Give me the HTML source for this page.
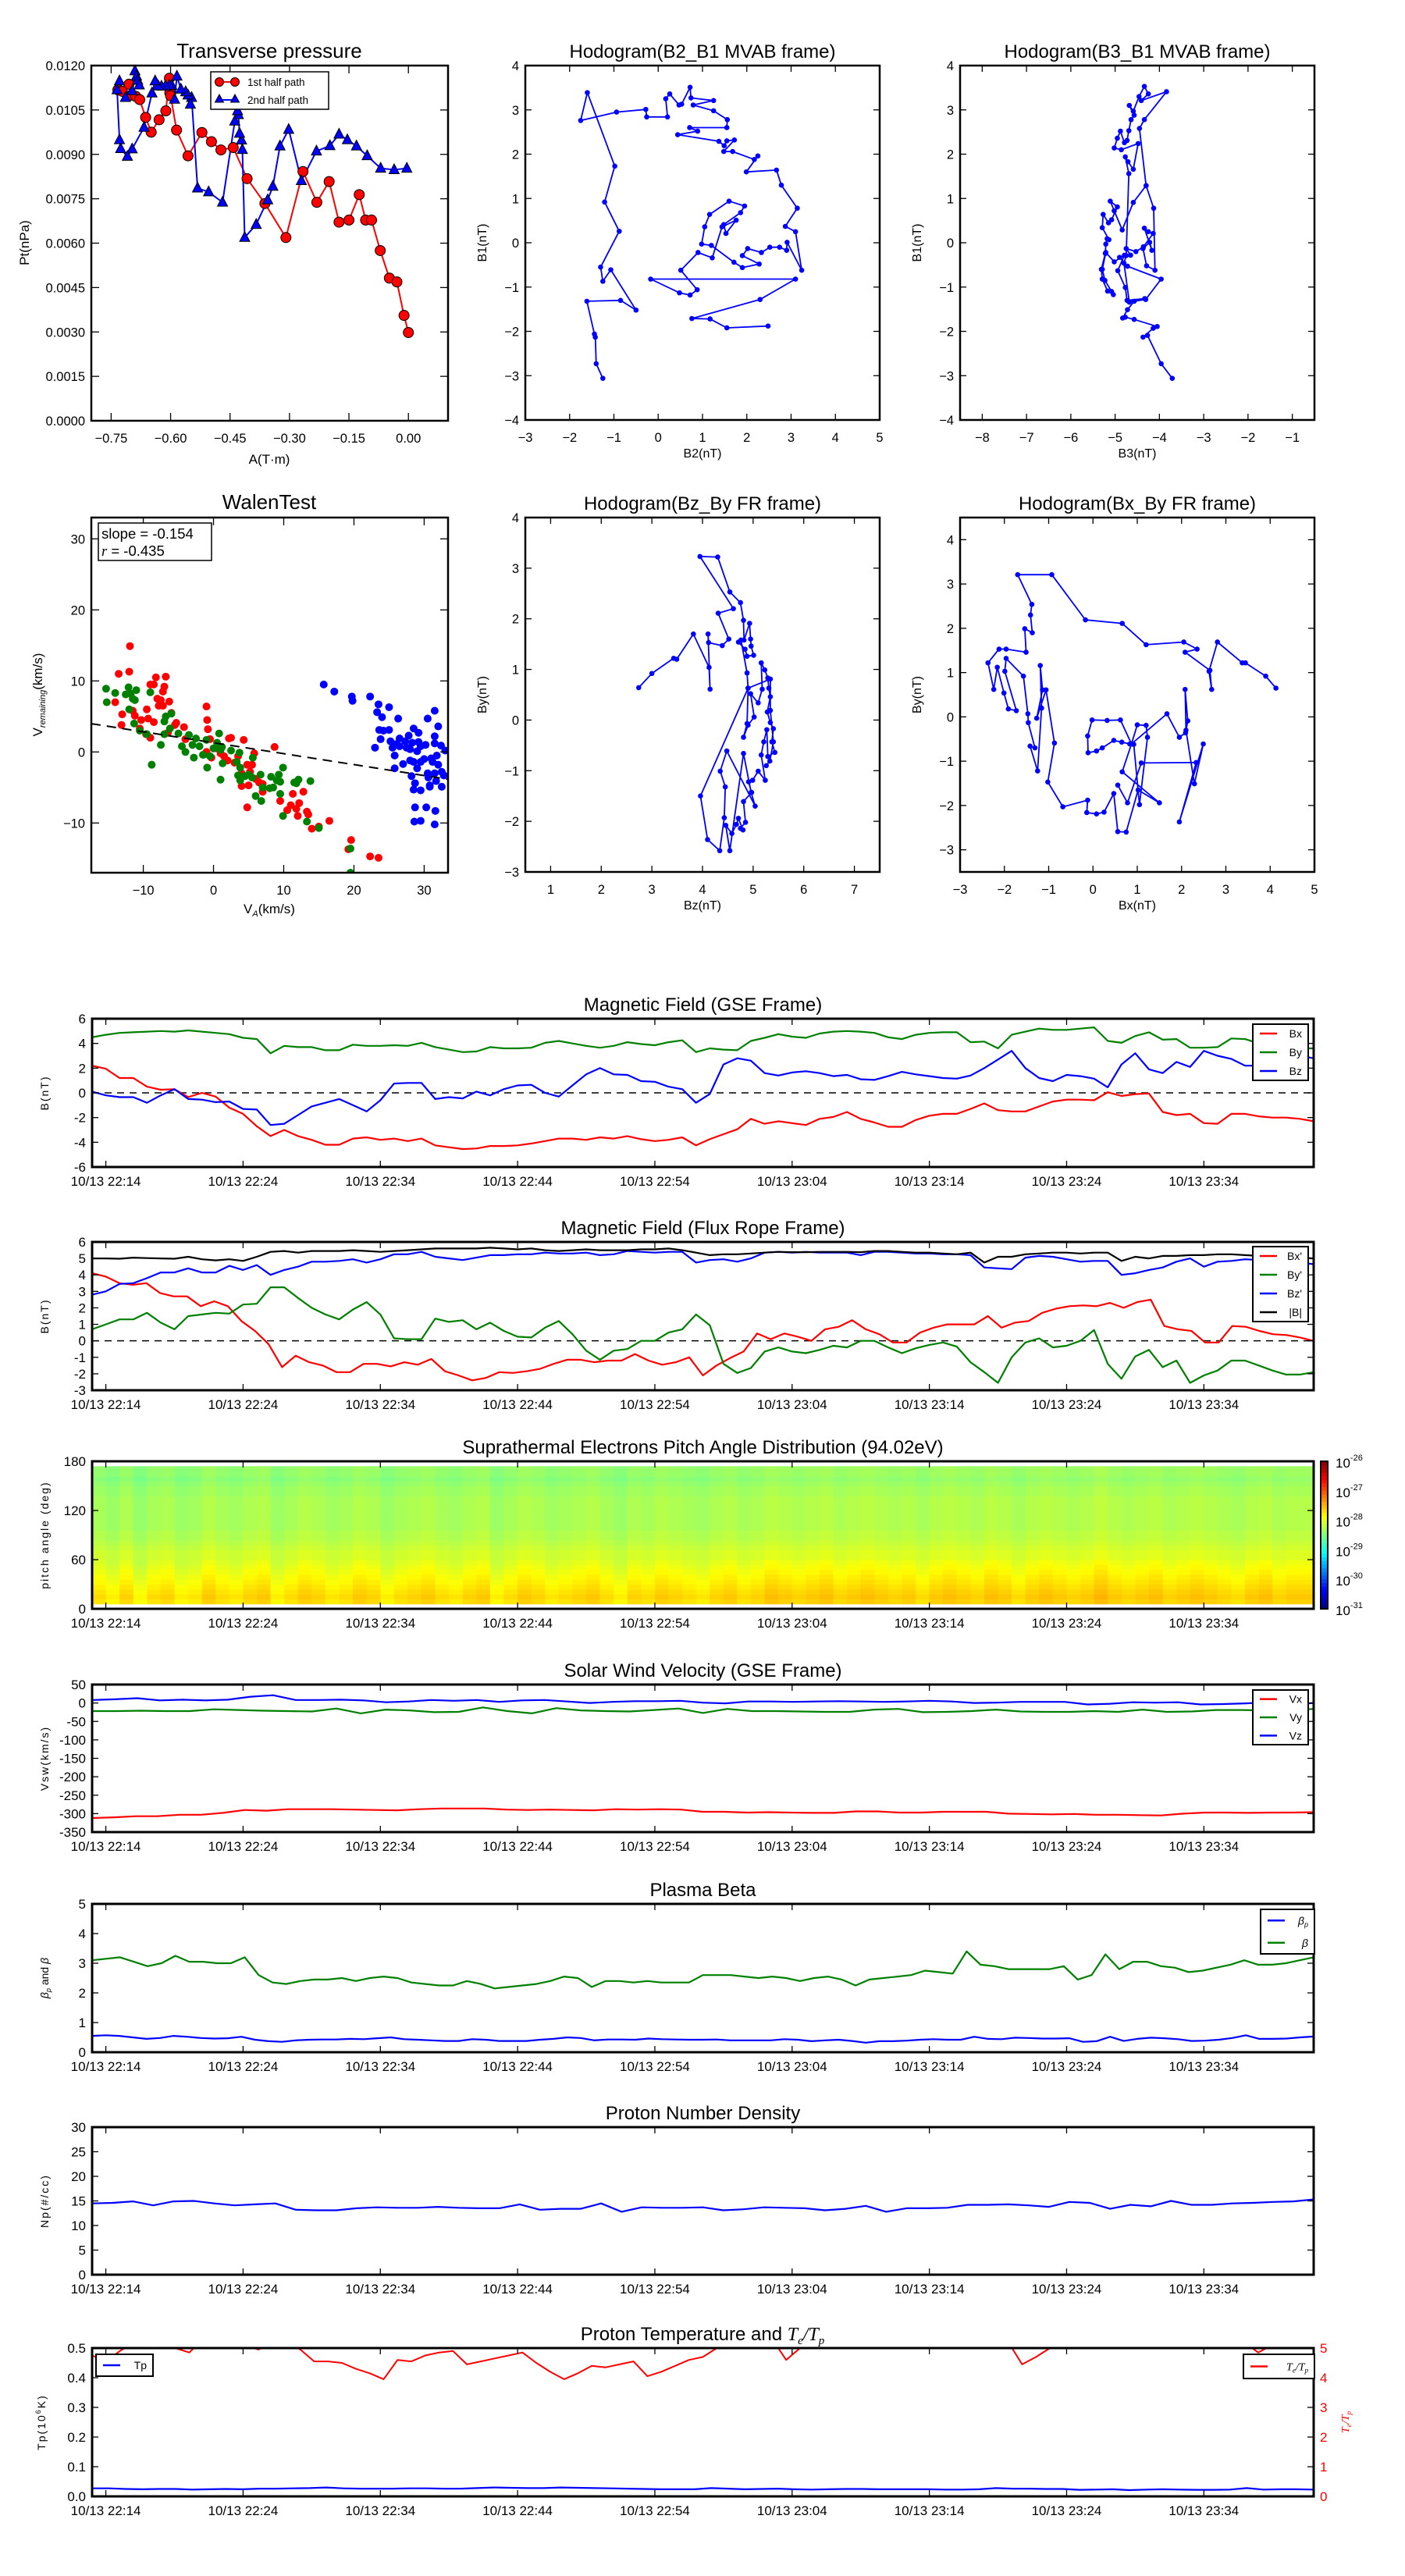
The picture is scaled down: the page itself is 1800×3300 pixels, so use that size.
<!DOCTYPE html>
<html><head><meta charset="utf-8">
<style>
html,body{margin:0;padding:0;background:#fff;}
svg{display:block;font-family:"Liberation Sans","DejaVu Sans",sans-serif;}
</style></head>
<body>
<svg id="fig" xmlns="http://www.w3.org/2000/svg" width="1800" height="3300" viewBox="0 0 1800 3300"></svg>
<script>
// ---------- DATA ----------
const tpRedA=[-0.733,-0.722,-0.705,-0.699,-0.688,-0.678,-0.663,-0.649,-0.629,-0.612,-0.603,-0.602,-0.600,-0.585,-0.556,-0.521,-0.497,-0.473,-0.442,-0.407,-0.362,-0.309,-0.266,-0.231,-0.200,-0.175,-0.150,-0.124,-0.108,-0.093,-0.071,-0.048,-0.029,-0.011,0.000];
const tpRedP=[0.01118,0.01113,0.01137,0.01100,0.01096,0.01085,0.01025,0.00975,0.01017,0.01047,0.01157,0.01108,0.01098,0.00982,0.00895,0.00974,0.00943,0.00915,0.00923,0.00818,0.00734,0.00619,0.00842,0.00738,0.00808,0.00671,0.00678,0.00764,0.00678,0.00678,0.00575,0.00482,0.00469,0.00356,0.00298];
const tpBlueA=[-0.004,-0.036,-0.070,-0.104,-0.131,-0.154,-0.175,-0.198,-0.232,-0.270,-0.302,-0.324,-0.342,-0.355,-0.384,-0.413,-0.419,-0.421,-0.426,-0.429,-0.431,-0.438,-0.469,-0.504,-0.532,-0.547,-0.550,-0.556,-0.562,-0.574,-0.584,-0.590,-0.597,-0.603,-0.613,-0.623,-0.631,-0.639,-0.647,-0.667,-0.697,-0.709,-0.726,-0.729,-0.735,-0.729,-0.714,-0.697,-0.690,-0.686,-0.683,-0.679];
const tpBlueP=[0.00853,0.00848,0.00853,0.00895,0.00928,0.00949,0.00968,0.00929,0.00911,0.00811,0.00984,0.00928,0.00792,0.00746,0.00663,0.00619,0.00916,0.00948,0.00971,0.01034,0.01047,0.01012,0.00738,0.00773,0.00786,0.01092,0.01069,0.01100,0.01111,0.01120,0.01164,0.01086,0.01133,0.01133,0.01131,0.01130,0.01131,0.01148,0.01107,0.00991,0.00918,0.00893,0.00919,0.00949,0.01118,0.01148,0.01092,0.01115,0.01182,0.01164,0.01150,0.01134];

const h1B2=[-1.25,-1.40,-1.42,-1.44,-1.61,-0.85,-0.50,-1.07,-1.25,-1.30,-0.88,-1.21,-0.98,-1.60,-1.75,-0.94,-0.28,-0.26,0.21,0.17,0.26,0.47,0.53,0.72,0.74,1.25,0.79,1.25,1.56,1.55,0.71,0.89,0.44,1.37,1.49,1.55,1.72,1.48,1.68,2.17,2.25,1.99,2.67,2.78,3.14,2.87,3.10,3.24,2.91,2.90,2.74,2.52,2.33,2.02,1.90,2.28,1.90,1.71,1.20,0.98,1.05,1.16,1.60,1.95,1.86,1.48,1.53,1.76,1.44,1.22,0.90,0.51,0.88,0.72,0.48,-0.17,3.10,2.30,0.76,1.17,1.55,2.48];
const h1B1=[-3.06,-2.73,-2.13,-2.06,-1.32,-1.30,-1.52,-0.61,-0.87,-0.55,0.26,0.92,1.73,3.39,2.76,2.95,3.01,2.84,2.84,3.25,3.36,3.11,3.13,3.51,3.27,3.21,3.11,2.98,2.78,2.60,2.60,2.52,2.44,2.29,2.19,2.30,2.32,2.06,2.06,1.88,1.96,1.60,1.64,1.30,0.78,0.37,0.25,-0.62,0.01,-0.17,-0.10,-0.10,-0.22,-0.13,-0.29,-0.48,-0.56,-0.44,-0.06,-0.03,0.36,0.64,0.94,0.83,0.68,0.41,0.21,0.51,0.36,-0.34,-0.22,-0.62,-1.06,-1.18,-1.13,-0.82,-0.82,-1.28,-1.71,-1.72,-1.92,-1.88];

const h2B3=[-3.71,-3.96,-4.27,-4.37,-4.14,-4.05,-4.57,-4.77,-4.83,-4.72,-4.57,-4.33,-4.73,-4.77,-4.94,-4.79,-5.02,-5.21,-5.29,-5.23,-5.08,-5.04,-5.17,-5.29,-5.31,-5.22,-5.21,-5.18,-5.14,-5.29,-5.27,-5.15,-5.08,-4.95,-5.11,-5.02,-4.84,-4.59,-4.30,-4.13,-4.10,-4.29,-4.37,-4.22,-4.17,-4.34,-4.25,-4.14,-4.36,-4.53,-4.75,-4.65,-4.90,-4.72,-3.96,-4.31,-4.68,-4.80,-4.75,-4.69,-4.77,-4.71,-4.59,-4.48,-4.86,-5.02,-4.95,-4.88,-4.79,-4.73,-4.69,-4.64,-4.57,-4.68,-4.59,-4.46,-4.34,-4.25,-4.41,-3.84,-4.34,-4.45,-4.30];
const h2B1=[-3.06,-2.73,-2.09,-2.13,-1.93,-1.89,-1.73,-1.68,-1.70,-1.51,-1.32,-1.26,-1.30,-1.01,-0.63,-0.28,-0.43,-0.22,-0.60,-0.85,-1.10,-1.17,-1.09,-0.82,-0.60,-0.24,-0.03,0.09,0.07,0.34,0.64,0.45,0.52,0.81,0.94,0.72,0.29,0.91,1.29,0.78,-0.62,-0.52,-0.13,0.01,-0.17,0.33,0.25,0.21,-0.09,-0.20,-0.13,-0.28,-0.33,-0.53,-0.82,-1.28,-1.34,-0.46,-0.29,1.56,1.94,1.83,1.66,2.24,2.10,2.14,2.36,2.52,2.26,2.31,2.53,2.78,2.88,3.10,2.97,3.30,3.53,3.36,3.21,3.41,2.78,2.58,1.29];

const h3Bz=[2.74,3.00,3.43,3.49,3.82,4.13,4.15,4.11,4.12,4.39,4.52,4.31,4.61,3.95,4.30,4.54,4.75,4.81,4.82,4.93,4.95,4.96,5.01,4.88,4.84,4.71,4.76,4.88,4.90,4.88,4.81,4.90,5.02,4.95,5.10,5.18,5.16,5.23,5.29,5.31,5.34,5.28,5.34,5.40,5.37,5.43,5.29,5.27,5.21,5.16,5.24,5.10,4.99,4.91,4.97,4.81,4.85,4.75,4.80,4.71,4.67,4.58,4.46,4.54,4.81,4.96,5.04,4.48,4.35,4.45,4.43,4.34,4.10,3.96,4.90,5.34,5.34,5.40,5.33,5.26];
const h3By=[0.64,0.92,1.22,1.20,1.70,1.04,0.61,1.70,1.53,1.47,1.60,2.11,2.20,3.23,3.22,2.53,2.32,1.97,1.58,1.91,1.60,1.46,1.28,1.26,1.40,1.54,1.58,0.93,0.63,-0.07,-0.34,-0.10,0.06,0.52,0.34,0.61,1.13,0.99,0.83,0.63,0.46,0.16,-0.05,-0.17,-0.43,-0.64,-0.72,-0.19,-0.43,-0.69,-1.19,-1.01,-1.19,-1.22,-1.43,-1.61,-2.02,-2.14,-2.17,-1.94,-2.06,-2.24,-2.08,-2.58,-0.66,-1.43,-1.70,-0.61,-1.01,-1.32,-1.93,-2.58,-2.36,-1.50,0.63,0.81,0.19,-0.43,-0.81,-0.90];

const h4Bx=[4.13,3.90,3.44,3.37,2.81,2.62,2.68,2.64,2.08,2.35,2.05,1.20,0.66,-0.17,-0.93,-1.70,-1.38,-1.41,-1.37,-1.54,-1.51,-1.96,-2.12,-2.37,-2.24,-2.16,-2.01,-1.91,-1.73,-1.99,-1.96,-1.57,-1.47,-1.46,-1.31,-1.42,-1.25,-1.16,-1.19,-1.14,-1.27,-1.06,-0.87,-1.02,-0.68,-0.12,-0.14,0.08,0.25,0.47,0.56,0.75,1.02,1.50,0.66,0.87,1.00,1.20,1.23,1.05,0.92,0.83,0.65,0.47,0.21,0.08,-0.11,-0.12,-0.02,0.32,0.62,0.87,1.67,1.95,2.09,2.14,2.08,2.10,2.29,2.49,1.95,2.33,1.09,0.78,0.56];
const h4By=[0.65,0.92,1.22,1.22,1.69,1.03,0.62,1.05,1.46,1.53,1.69,1.63,2.11,2.19,3.21,3.21,2.54,2.30,1.90,1.99,1.46,1.53,1.53,1.22,0.62,1.12,0.54,0.18,0.14,1.03,1.32,0.92,0.07,-0.13,-0.70,-0.66,-1.22,0.20,1.16,0.61,-0.03,0.61,-0.59,-1.47,-2.03,-1.88,-2.16,-2.19,-2.15,-1.73,-2.59,-2.60,-1.65,-1.94,-1.24,-0.61,-0.18,-0.19,-0.46,-1.98,-0.62,-0.61,-0.57,-0.53,-0.70,-0.77,-0.81,-0.43,-0.07,-0.08,-0.07,-0.61,0.07,-0.46,-0.36,-0.09,0.62,-0.30,-1.51,-0.61,-2.37,-1.03,-1.04,-1.94,-1.54];

const wRedX=[-11.9,-13.5,-12,-14,-13,-13.1,-11.5,-11.2,-10.5,-10.3,-9.5,-9.3,-9,-8.5,-8.2,-8,-7.8,-7.5,-7.2,-8.5,-7,-7.2,-6.8,-6.3,-6,-5.5,-5.3,-4.2,-4,-1,-0.9,-0.8,-0.5,-1,-0.3,1.5,2.2,2.5,2,3,4.3,4,4.8,5.2,5.5,5.8,5,4,6.5,7,4.8,8.7,9.5,11,11.3,11.8,12,12.2,12.8,13.3,13.5,14,15,16.5,19.2,19.6,22.3,23.5,-9,-9.6,-6.5,-1.2,0.5,1,3.5,6,7,10.5];
const wRedY=[14.9,11,11.3,7,5.3,3.8,5.8,5.1,3.3,4.5,6,4.7,9.5,9.5,10.5,7.5,6.5,7.3,6.5,4.2,9.2,8.5,10.6,7.1,5.5,3.8,4.1,3.5,1.8,6.4,4.5,3.2,1.8,0,-0.8,-0.6,1.9,2,-1.2,-1.5,1.7,-3,-1.8,-2.8,-1.8,-0.2,-4.7,-4.8,-4.3,-5.6,-7.8,0.7,-6.9,-7.5,-5.9,-8,-9,-7.2,-5.6,-8.4,-8.8,-10.8,-10.5,-9.7,-13.7,-12.4,-14.7,-14.9,2,2.5,2.7,-0.3,0.5,-0.2,-0.6,-3.8,-4.5,-8.2];
const wGreenX=[-15.3,-15.2,-14,-12.5,-12.1,-11.8,-11,-11.2,-11.5,-12,-11.3,-10.5,-9.5,-9,-8.8,-7.5,-7,-6.8,-6,-6.2,-7,-5,-4.5,-4,-3.5,-3,-2.5,-2.8,-2,-1.5,-1,-0.9,-0.5,0,0.5,0.8,1,1.2,1,1.3,2.5,3.3,3.8,3.7,3.5,3.8,4.5,5,5.6,5.5,6,6.7,7,6.8,8,8.2,8.5,9,9.3,9.5,9.5,9.9,9.9,11.5,12.1,11.8,13.3,13.8,15,19.5,19.5];
const wGreenY=[8.9,7,8.3,8.1,9.1,8.2,8.7,7.3,7.5,6,4,3,2.5,8.4,-1.8,1,4.3,5,5.4,3.3,2.5,2.6,0.8,0,2.4,1,1.9,-0.8,0.8,-0.4,1.7,-2.2,-0.6,0.5,1.3,2.6,0.3,0.7,-3.9,-1.6,0.2,-1.4,-2.2,-0.1,-3.3,-4,-3.4,-3.2,-0.8,-3.6,-6.2,-3.2,-5,-6.9,-5.1,-3.5,-5,-4,-3.2,-4.2,-5.9,-2.2,-9,-4.3,-3.9,-4.4,-9.8,-4.1,-10.7,-13.6,-17];
const wBlueX=[15.7,17.2,19.7,19.8,22.3,23.5,23.3,24,25,26.3,23.6,24.2,25,23.8,23,25.2,25.5,25.8,26,26.5,26.5,27.3,27.8,28.5,29.2,27.5,28,28.3,29,29.5,29.2,30.2,28.5,27,28,29,29.5,30,30.5,31,31.5,31.5,32,32.4,31.8,32,32.5,31.5,30.6,30.8,31.7,28.2,28.7,28.5,29.5,30.8,32.5,25.8,28.7,30.3,31.6,28.6,29.5,31.5,30.5,31.5,32.8,31.2,33];
const wBlueY=[9.5,8.5,7.8,7.2,7.8,6.7,5.6,4.9,6.3,4.7,3.1,3,3.1,1.8,0.6,1.5,0.6,-0.5,1.1,1.9,0.8,1.5,2.3,3.3,2.7,0.6,0.4,1.3,0.1,0.8,1.4,1,-1.4,-1.7,-1.2,-2.3,-1.4,-1,-3,-0.9,1.2,2.2,3.6,0.9,-0.5,-1.8,-2.8,-3,-3.6,-4.7,-4.1,-3.4,-4.4,-5.3,-5.4,-4.9,-4.9,-2.3,-7.8,-7.8,-8.3,-9.8,-9.7,-10.2,4.7,5.8,-3.3,-1.4,0.2];
const walenSlope=-0.154, walenIntercept=1.3;

const timeTicks=["10/13 22:14","10/13 22:24","10/13 22:34","10/13 22:44","10/13 22:54","10/13 23:04","10/13 23:14","10/13 23:24","10/13 23:34"];
const bx=[2.2,1.95,1.2,1.2,0.5,0.25,0.3,-0.35,0,-0.3,-1.2,-1.7,-2.7,-3.5,-3,-3.5,-3.8,-4.2,-4.2,-3.7,-3.6,-3.8,-3.7,-3.9,-3.7,-4.25,-4.4,-4.55,-4.5,-4.3,-4.3,-4.25,-4.1,-3.9,-3.7,-3.7,-3.8,-3.6,-3.7,-3.5,-3.75,-3.9,-3.8,-3.6,-4.25,-3.75,-3.35,-2.95,-2.1,-2.5,-2.3,-2.45,-2.6,-2.1,-1.95,-1.55,-2.1,-2.4,-2.75,-2.75,-2.2,-1.85,-1.7,-1.7,-1.3,-0.85,-1.4,-1.5,-1.5,-1.1,-0.7,-0.55,-0.55,-0.6,0.05,-0.25,-0.1,-0.05,-1.55,-1.8,-1.7,-2.45,-2.5,-1.7,-1.7,-1.9,-2,-2,-2.1,-2.3];
const by=[4.5,4.7,4.85,4.9,4.95,5.0,4.95,5.05,4.95,4.85,4.75,4.45,4.35,3.2,3.8,3.7,3.7,3.45,3.45,3.9,3.8,3.8,3.85,3.8,4.05,3.7,3.5,3.3,3.35,3.7,3.6,3.6,3.65,4.05,4.2,4.0,3.8,3.65,3.8,4.1,3.95,3.85,4.1,4.25,3.3,3.6,3.5,3.45,4.2,4.45,4.75,4.55,4.45,4.8,4.95,5.0,4.95,4.85,4.5,4.35,4.7,4.85,4.9,4.9,4.1,4.15,3.6,4.7,4.95,5.2,5.1,5.1,5.2,5.3,4.2,4.05,4.6,4.9,4.3,4.35,3.65,3.65,3.7,4.4,4.35,4.0,3.85,3.65,3.6,3.6];
const bz=[0.1,-0.2,-0.35,-0.35,-0.8,-0.2,0.3,-0.5,-0.55,-0.75,-0.7,-1.3,-1.35,-2.6,-2.5,-1.8,-1.1,-0.8,-0.5,-1.0,-1.5,-0.6,0.75,0.8,0.8,-0.5,-0.35,-0.45,0.1,-0.2,0.3,0.6,0.65,0.0,-0.3,0.6,1.5,2.0,1.5,1.45,0.95,0.9,0.5,0.3,-0.8,-0.1,2.3,2.8,2.6,1.6,1.4,1.65,1.75,1.6,1.35,1.45,1.1,1.05,1.35,1.7,1.5,1.35,1.2,1.15,1.4,2.0,2.7,3.4,2.0,1.2,0.95,1.45,1.35,1.15,0.45,2.3,3.2,1.9,1.6,2.5,2.1,3.4,3.0,2.75,2.2,2.2,2.45,3.3,3.0,2.8];
const bxp=[4.1,3.9,3.5,3.4,3.5,2.9,2.7,2.7,2.1,2.4,2.1,1.2,0.6,-0.2,-1.6,-0.9,-1.3,-1.5,-1.9,-1.9,-1.4,-1.4,-1.55,-1.3,-1.45,-1.1,-1.85,-2.1,-2.4,-2.25,-1.9,-1.95,-1.85,-1.7,-1.4,-1.15,-1.15,-1.3,-1.2,-1.2,-0.8,-1.2,-1.45,-1.3,-1.0,-2.1,-1.5,-1.05,-0.65,0.45,0.1,0.45,0.25,0.0,0.7,0.85,1.25,0.7,0.4,-0.1,-0.1,0.5,0.8,1.0,1.0,1.0,1.5,0.8,1.1,1.2,1.7,1.95,2.1,2.15,2.1,2.3,2.0,2.35,2.5,0.9,0.7,0.6,-0.1,-0.1,0.9,0.85,0.6,0.4,0.35,0.2,0.0];
const byp=[0.7,1.0,1.3,1.3,1.7,1.1,0.7,1.5,1.6,1.7,1.65,2.2,2.25,3.25,3.25,2.6,2.0,1.6,1.3,1.9,2.35,1.6,0.15,0.1,0.1,1.35,1.15,1.25,0.7,1.1,0.6,0.25,0.2,0.8,1.2,0.4,-0.6,-1.15,-0.6,-0.5,0.0,0.0,0.5,0.7,1.6,0.95,-1.4,-1.95,-1.65,-0.65,-0.4,-0.65,-0.75,-0.55,-0.3,-0.4,0.0,0.0,-0.4,-0.75,-0.45,-0.25,-0.1,-0.35,-1.3,-1.9,-2.55,-1.0,-0.1,0.15,-0.4,-0.3,0.0,0.65,-1.4,-2.3,-0.95,-0.55,-1.6,-1.2,-2.55,-2.1,-1.8,-1.2,-1.2,-1.5,-1.8,-2.05,-2.05,-1.9];
const bzp=[2.8,3.0,3.45,3.5,3.8,4.15,4.15,4.4,4.15,4.15,4.55,4.3,4.6,4.0,4.3,4.5,4.8,4.8,4.85,4.95,4.75,4.95,5.25,5.25,5.4,5.1,5.0,4.9,5.05,5.2,5.2,5.25,5.25,5.35,5.3,5.3,5.35,5.2,5.25,5.45,5.4,5.35,5.4,5.4,4.75,4.9,4.95,4.8,5.0,5.35,5.4,5.35,5.4,5.35,5.35,5.35,5.2,5.4,5.4,5.35,5.3,5.3,5.25,5.25,5.2,4.45,4.4,4.35,5.05,5.15,5.1,4.95,4.8,4.85,4.85,4.0,4.1,4.3,4.45,4.8,5.0,4.5,4.8,4.85,4.95,4.9,4.8,4.85,4.75,4.65];
const bmag=[5.0,5.0,4.98,5.05,5.02,5.0,4.98,5.1,4.95,4.88,4.95,4.85,5.1,5.4,5.45,5.35,5.45,5.45,5.45,5.5,5.45,5.4,5.45,5.5,5.55,5.6,5.6,5.6,5.6,5.65,5.6,5.55,5.6,5.5,5.45,5.5,5.55,5.5,5.5,5.5,5.55,5.55,5.6,5.5,5.35,5.2,5.25,5.25,5.3,5.35,5.4,5.38,5.38,5.4,5.4,5.4,5.38,5.45,5.45,5.4,5.35,5.35,5.3,5.25,5.35,4.75,5.1,5.1,5.25,5.3,5.35,5.35,5.3,5.35,5.35,4.85,5.1,5.0,5.15,5.15,5.2,5.2,5.25,5.25,5.2,5.15,5.12,5.1,5.05,5.0];
// pitch-angle distribution: log10 flux by 6-degree bin (bottom to top), per-minute adjustment
const padRowLevel=[NaN,-27.75,-27.7,-27.75,-27.8,-27.85,-27.9,-27.95,-28.0,-28.05,-28.1,-28.1,-28.15,-28.2,-28.25,-28.25,-28.3,-28.3,-28.3,-28.3,-28.3,-28.3,-28.3,-28.35,-28.35,-28.4,-28.45,-28.4,-28.4,NaN];
const padColAdj=[0,-0.1,0.05,-0.15,0,0.05,-0.1,-0.05,0.1,0,-0.05,0.05,0.1,-0.1,0,0.1,0.05,-0.05,0,0.1,0.05,-0.1,0,0.05,0.1,0,-0.05,0.05,0.1,-0.1,0,0.1,0.05,-0.05,0,0.05,0.1,0,-0.1,0.05,0,0.1,0.05,0,-0.05,0.05,0.1,0,0.05,0.15,0.1,0.05,0.1,0.15,0.05,0.1,0.15,0.1,0.05,0.1,0,0.1,0.15,0.1,0.05,0.15,0.1,0,0.1,0.15,0.1,0.05,0.1,0.2,0.1,0.05,0.1,0.15,0.05,0.1,0.15,0.1,0.05,0,0.1,0.15,0.05,0.1,0.1];
const vx=[-312,-310,-307,-307,-303,-303,-298,-290,-292,-288,-288,-288,-289,-290,-291,-288,-286,-286,-286,-289,-290,-289,-290,-291,-288,-289,-288,-289,-295,-295,-297,-296,-297,-298,-298,-294,-294,-297,-297,-295,-295,-295,-300,-301,-302,-301,-303,-303,-304,-305,-300,-297,-297,-298,-297,-297,-296];
const vy=[-22,-22,-21,-22,-22,-17,-19,-21,-22,-23,-15,-28,-18,-20,-25,-24,-12,-22,-28,-14,-20,-22,-23,-19,-15,-27,-16,-22,-22,-23,-24,-24,-18,-16,-25,-24,-22,-18,-23,-24,-24,-22,-24,-18,-24,-23,-19,-19,-20,-21,-16];
const vz=[8,10,13,7,9,7,9,17,21,8,8,9,7,2,4,8,6,8,3,7,8,4,0,3,5,5,6,1,-1,4,4,3,4,5,4,3,4,6,4,0,1,3,3,3,-4,-2,2,1,2,-4,-3,-1,2,-4,0];
const beta=[3.1,3.15,3.2,3.05,2.9,3.0,3.25,3.05,3.05,3.0,3.0,3.2,2.6,2.35,2.3,2.4,2.45,2.45,2.5,2.4,2.5,2.55,2.5,2.35,2.3,2.25,2.25,2.4,2.3,2.15,2.2,2.25,2.3,2.4,2.55,2.5,2.2,2.4,2.4,2.35,2.4,2.35,2.35,2.35,2.6,2.6,2.6,2.55,2.5,2.55,2.5,2.4,2.5,2.55,2.45,2.25,2.45,2.5,2.55,2.6,2.75,2.7,2.65,3.4,2.95,2.9,2.8,2.8,2.8,2.8,2.9,2.45,2.6,3.3,2.8,3.05,3.05,2.9,2.85,2.7,2.75,2.85,2.95,3.1,2.95,2.95,3.0,3.1,3.2];
const betaP=[0.55,0.57,0.55,0.5,0.45,0.48,0.55,0.52,0.48,0.46,0.47,0.52,0.42,0.37,0.35,0.4,0.42,0.43,0.43,0.45,0.44,0.47,0.5,0.44,0.42,0.4,0.38,0.38,0.44,0.42,0.38,0.38,0.38,0.42,0.45,0.5,0.48,0.4,0.43,0.43,0.42,0.46,0.44,0.43,0.42,0.42,0.43,0.4,0.4,0.4,0.4,0.44,0.42,0.37,0.4,0.42,0.38,0.32,0.37,0.37,0.39,0.42,0.44,0.42,0.42,0.52,0.45,0.44,0.49,0.48,0.46,0.46,0.47,0.35,0.37,0.52,0.38,0.45,0.49,0.47,0.44,0.38,0.39,0.42,0.48,0.57,0.45,0.45,0.46,0.5,0.53];
const np=[14.5,14.6,14.9,14.1,14.9,15.0,14.5,14.1,14.3,14.5,13.2,13.1,13.1,13.5,13.7,13.6,13.6,13.8,13.6,13.5,13.5,14.3,13.2,13.4,13.4,14.5,12.8,13.7,13.6,13.6,13.7,13.1,13.3,13.7,13.6,13.5,13.1,13.4,14.0,12.8,13.5,13.5,13.6,14.2,14.2,14.3,14.1,13.8,14.8,14.6,13.4,14.2,13.9,15.0,14.2,14.2,14.5,14.6,14.8,14.9,15.3];
const tp=[0.027,0.027,0.025,0.024,0.025,0.025,0.023,0.024,0.025,0.024,0.026,0.026,0.027,0.028,0.030,0.027,0.026,0.026,0.026,0.027,0.027,0.026,0.026,0.028,0.030,0.029,0.028,0.028,0.030,0.029,0.028,0.027,0.026,0.025,0.024,0.024,0.024,0.028,0.026,0.024,0.025,0.026,0.024,0.023,0.024,0.025,0.025,0.024,0.024,0.024,0.024,0.023,0.023,0.024,0.028,0.026,0.026,0.025,0.025,0.022,0.023,0.024,0.021,0.023,0.024,0.023,0.022,0.022,0.023,0.028,0.023,0.024,0.024,0.023];
const teTp=[4.75,4.55,4.9,5.2,5.3,5.2,5.0,4.85,5.3,5.3,5.2,5.1,4.95,5.3,5.2,4.95,4.55,4.55,4.5,4.3,4.15,3.95,4.6,4.55,4.75,4.85,4.9,4.45,4.55,4.65,4.75,4.85,4.5,4.2,3.95,4.15,4.4,4.35,4.45,4.55,4.05,4.2,4.4,4.6,4.7,5.0,5.4,5.6,5.5,5.3,4.6,5.0,5.4,5.4,5.6,5.5,5.7,5.6,5.4,5.5,5.6,5.7,5.5,5.6,5.4,5.3,5.2,4.45,4.7,5.0,5.3,5.4,5.5,5.6,5.5,5.4,5.6,5.5,5.4,5.5,5.6,5.4,5.3,5.2,4.85,5.1,5.3,5.4,5.5];

// ---------- HELPERS ----------
const NS="http://www.w3.org/2000/svg";
const svg=document.getElementById('fig');
function mk(tag,attrs,parent){const e=document.createElementNS(NS,tag);for(const k in attrs)e.setAttribute(k,attrs[k]);(parent||svg).appendChild(e);return e;}
function txt(s,x,y,size,anchor,parent,extra){const t=mk('text',Object.assign({x:x,y:y,'font-size':size,'text-anchor':anchor||'middle',fill:'#000'},extra||{}),parent);t.textContent=s;return t;}
function axes(o){
  o.sx=v=>o.x0+(v-o.xmin)/(o.xmax-o.xmin)*(o.x1-o.x0);
  o.sy=v=>o.y1-(v-o.ymin)/(o.ymax-o.ymin)*(o.y1-o.y0);
  const g=mk('g',{});
  
  
  o.g=g;
  const cid='clip-'+o.name;
  const cp=mk('clipPath',{id:cid},g);
  mk('rect',{x:o.x0,y:o.y0,width:o.x1-o.x0,height:o.y1-o.y0},cp);
  o.plot=mk('g',{'clip-path':'url(#'+cid+')'},g);
  return o;
}
function frame(o,tl){
  const g=o.g;tl=tl||9;
  const fr=mk('rect',{x:o.x0,y:o.y0,width:o.x1-o.x0,height:o.y1-o.y0,fill:'none',stroke:'#000','stroke-width':o.fw||2.5},g);
  
  
  (o.xticks||[]).forEach((v,i)=>{const x=o.sx(v);
    mk('line',{x1:x,x2:x,y1:o.y1,y2:o.y1-tl,stroke:'#000','stroke-width':1.3},g);
    mk('line',{x1:x,x2:x,y1:o.y0,y2:o.y0+tl,stroke:'#000','stroke-width':1.3},g);
    const t=txt(o.xlabels?o.xlabels[i]:String(v),x,o.y1+(o.xlo||28),o.tfs||17,'middle',g);
    
    
  });
  (o.yticks||[]).forEach((v,i)=>{const y=o.sy(v);
    mk('line',{x1:o.x0,x2:o.x0+tl,y1:y,y2:y,stroke:'#000','stroke-width':1.3},g);
    if(!o.noRightTicks) mk('line',{x1:o.x1,x2:o.x1-tl,y1:y,y2:y,stroke:'#000','stroke-width':1.3},g);
    const t=txt(o.ylabels?o.ylabels[i]:String(v),o.x0-(o.ylo||8),y+6,o.tfs||17,'end',g);
    
    
  });
}
function poly(o,xs,ys,color,w,parent){
  const pts=xs.map((x,i)=>o.sx(x).toFixed(1)+','+o.sy(ys[i]).toFixed(1)).join(' ');
  return mk('polyline',{points:pts,fill:'none',stroke:color,'stroke-width':w||2,'stroke-linejoin':'round'},parent||o.plot);
}
const minus=s=>s.replace(/-/g,'\u2212');
function range(a,b,s){const r=[];for(let v=a;v<=b+1e-9;v+=s)r.push(Math.round(v*1e6)/1e6);return r;}

// ---------- TRANSVERSE PRESSURE ----------
(function(){
 const o=axes({name:'transverse-pressure-panel',x0:117,x1:574,y0:84,y1:539,xmin:-0.8,xmax:0.1,ymin:0,ymax:0.012,tfs:16.5});
 o.xticks=range(-0.75,0,0.15);o.xlabels=o.xticks.map(v=>minus(v.toFixed(2)).replace('\u22120.00','0.00'));
 o.yticks=range(0,0.012,0.0015);o.ylabels=o.yticks.map(v=>v.toFixed(4));
 const rl=poly(o,tpRedA,tpRedP,'#f00',2);
 
 
 const bl=poly(o,tpBlueA,tpBlueP,'#00f',2);
 
 
 tpRedA.forEach((a,i)=>{const c=mk('circle',{cx:o.sx(a),cy:o.sy(tpRedP[i]),r:6.5,fill:'#f00',stroke:'#000','stroke-width':1},o.g);
  
  });
 tpBlueA.forEach((a,i)=>{const x=o.sx(a),y=o.sy(tpBlueP[i]);const p=mk('polygon',{points:`${x},${y-7.5} ${x-6.5},${y+5} ${x+6.5},${y+5}`,fill:'#00f',stroke:'#000','stroke-width':1},o.g);
  
  });
 frame(o,10);
 const t=txt('Transverse pressure',345,74,26,'middle',o.g);
 
 
 const xl=txt('A(T\u00b7m)',345,594,17,'middle',o.g);
 
 
 const yl=txt('Pt(nPa)',37,311,17,'middle',o.g,{transform:'rotate(-90 37 311)'});
 
 
 const lg=mk('g',{},o.g);
 
 
 mk('rect',{x:270,y:92,width:151,height:48,fill:'#fff',stroke:'#000','stroke-width':1.5},lg);
 mk('line',{x1:281,x2:301,y1:105,y2:105,stroke:'#f00','stroke-width':2},lg);
 mk('circle',{cx:281,cy:105,r:5.5,fill:'#f00',stroke:'#000'},lg);mk('circle',{cx:301,cy:105,r:5.5,fill:'#f00',stroke:'#000'},lg);
 txt('1st half path',317,110,13.5,'start',lg);
 mk('line',{x1:281,x2:301,y1:128,y2:128,stroke:'#00f','stroke-width':2},lg);
 mk('polygon',{points:'281,121 275.5,131 286.5,131',fill:'#00f',stroke:'#000'},lg);mk('polygon',{points:'301,121 295.5,131 306.5,131',fill:'#00f',stroke:'#000'},lg);
 txt('2nd half path',317,133,13.5,'start',lg);
})();

// ---------- HODOGRAMS ----------
function hodo(name,title,box,xr,yr,xt,yt,xs,ys,xlab,ylab){
 const o=axes({name:name,x0:box[0],x1:box[1],y0:box[2],y1:box[3],xmin:xr[0],xmax:xr[1],ymin:yr[0],ymax:yr[1],tfs:16.5});
 o.xticks=xt;o.xlabels=xt.map(v=>minus(String(v)));o.yticks=yt;o.ylabels=yt.map(v=>minus(String(v)));
 const l=poly(o,xs,ys,'#00f',1.8);
 
 
 xs.forEach((x,i)=>{const c=mk('circle',{cx:o.sx(x),cy:o.sy(ys[i]),r:3.3,fill:'#00f'},o.plot);
  
  });
 frame(o,8);
 const cx=(box[0]+box[1])/2;
 const t=txt(title,cx,box[2]-10,24,'middle',o.g);
 
 
 const xl=txt(xlab,cx,box[3]+48,16,'middle',o.g);
 
 
 const yx=box[0]-50,yy=(box[2]+box[3])/2;
 const yl=txt(ylab,yx,yy,16,'middle',o.g,{transform:`rotate(-90 ${yx} ${yy})`});
 
 
}
hodo('hodogram-b2-b1','Hodogram(B2_B1 MVAB frame)',[673,1127,84,538],[-3,5],[-4,4],range(-3,5,1),range(-4,4,1),h1B2,h1B1,'B2(nT)','B1(nT)');
hodo('hodogram-b3-b1','Hodogram(B3_B1 MVAB frame)',[1230,1684,84,538],[-8.5,-0.5],[-4,4],range(-8,-1,1),range(-4,4,1),h2B3,h2B1,'B3(nT)','B1(nT)');
hodo('hodogram-bz-by','Hodogram(Bz_By FR frame)',[673,1127,663,1117],[0.5,7.5],[-3,4],range(1,7,1),range(-3,4,1),h3Bz,h3By,'Bz(nT)','By(nT)');
hodo('hodogram-bx-by','Hodogram(Bx_By FR frame)',[1230,1684,663,1117],[-3,5],[-3.5,4.5],range(-3,5,1),range(-3,4,1),h4Bx,h4By,'Bx(nT)','By(nT)');

// ---------- WALEN ----------
(function(){
 const o=axes({name:'walen-test-panel',x0:117,x1:574,y0:663,y1:1118,xmin:-17.4,xmax:33.4,ymin:-17,ymax:33,tfs:16.5});
 o.xticks=[-10,0,10,20,30];o.xlabels=o.xticks.map(v=>minus(String(v)));
 o.yticks=[-10,0,10,20,30];o.ylabels=o.yticks.map(v=>minus(String(v)));
 [[wRedX,wRedY,'#f00','red-point'],[wGreenX,wGreenY,'#008000','green-point'],[wBlueX,wBlueY,'#00f','blue-point']].forEach(s=>{
  s[0].forEach((x,i)=>{const c=mk('circle',{cx:o.sx(x),cy:o.sy(s[1][i]),r:5,fill:s[2]},o.plot);
   
   });
 });
 const fl=mk('line',{x1:o.sx(o.xmin),y1:o.sy(walenSlope*o.xmin+walenIntercept),x2:o.sx(o.xmax),y2:o.sy(walenSlope*o.xmax+walenIntercept),stroke:'#000','stroke-width':2,'stroke-dasharray':'12,8'},o.plot);
 
 
 frame(o,10);
 const bx=mk('rect',{x:126,y:670,width:145,height:48,fill:'#fff',stroke:'#000','stroke-width':1.5},o.g);
 
 
 txt('slope = -0.154',130,690,18.5,'start',o.g);
 const r=txt('',130,712,18.5,'start',o.g);r.innerHTML='<tspan font-family="Liberation Serif" font-style="italic">r</tspan> = -0.435';
 const t=txt('WalenTest',345,652,26,'middle',o.g);
 
 
 const xl=txt('',345,1170,17,'middle',o.g);xl.innerHTML='V<tspan font-size="11" dy="4" font-style="italic">A</tspan><tspan dy="-4">(km/s)</tspan>';
 
 
 const yl=txt('',54,890,17,'middle',o.g,{transform:'rotate(-90 54 890)'});yl.innerHTML='V<tspan font-size="11" dy="4" font-style="italic">remaining</tspan><tspan dy="-4">(km/s)</tspan>';
 
 
})();

// ---------- TIME SERIES ----------
const TX0=118,TX1=1683;
function tpanel(name,title,y0,y1,ymin,ymax,yt,ylabels,ylab){
 const o=axes({name:name,x0:TX0,x1:TX1,y0:y0,y1:y1,xmin:0,xmax:89,ymin:ymin,ymax:ymax,fw:3,tfs:17,xlo:24});
 o.xticks=range(1,81,10);o.xlabels=timeTicks;o.yticks=yt;o.ylabels=ylabels||yt.map(String);
 const t=txt(title,(TX0+TX1)/2,y0-10,24,'middle',o.g);
 
 
 const yx=62,yy=(y0+y1)/2;
 const yl=txt(ylab,yx,yy,14,'middle',o.g,{transform:`rotate(-90 ${yx} ${yy})`,'letter-spacing':'2'});
 
 
 return o;
}
function series(o,arr,color,name,w){const xs=arr.map((_,i)=>i*89/(arr.length-1));const l=poly(o,xs,arr,color,w||2.2);
 
 return l;}
function zeroLine(o){const l=mk('line',{x1:TX0,x2:TX1,y1:o.sy(0),y2:o.sy(0),stroke:'#000','stroke-width':1.5,'stroke-dasharray':'9,7'},o.plot);
 
 }
function legend(o,x,y,w,h,items,fs){
 const g=mk('g',{},o.g);
 
 
 mk('rect',{x:x,y:y,width:w,height:h,fill:'#fff',stroke:'#000','stroke-width':2},g);
 const step=h/items.length;
 items.forEach((it,i)=>{const yy=y+step*(i+0.5);
  mk('line',{x1:x+9,x2:x+31,y1:yy,y2:yy,stroke:it[1],'stroke-width':2.5},g);
  const t=txt('',x+w-8,yy+5,fs||14,'end',g);t.innerHTML=it[0];});
}
// GSE
(function(){
 const o=tpanel('gse-field-panel','Magnetic Field (GSE Frame)',1305,1495,-6,6,range(-6,6,2),range(-6,6,2).map(String),'B(nT)');
 zeroLine(o);series(o,bx,'#f00','bx-line');series(o,by,'#008000','by-line');series(o,bz,'#00f','bz-line');
 frame(o,8);legend(o,1605,1312,71,72,[['Bx','#f00'],['By','#008000'],['Bz','#00f']]);
})();
// Flux rope
(function(){
 const o=tpanel('flux-rope-field-panel','Magnetic Field (Flux Rope Frame)',1591,1781,-3,6,range(-3,6,1),range(-3,6,1).map(String),'B(nT)');
 zeroLine(o);series(o,bxp,'#f00','bx-prime-line');series(o,byp,'#008000','by-prime-line');series(o,bzp,'#00f','bz-prime-line');series(o,bmag,'#000','b-magnitude-line');
 frame(o,8);legend(o,1605,1597,71,96,[["Bx'",'#f00'],["By'",'#008000'],["Bz'",'#00f'],['|B|','#000']]);
})();
// PAD
function jet(t){t=Math.max(0,Math.min(1,t));const r=Math.max(0,Math.min(1,1.5-Math.abs(4*t-3))),g=Math.max(0,Math.min(1,1.5-Math.abs(4*t-2))),b=Math.max(0,Math.min(1,1.5-Math.abs(4*t-1)));return `rgb(${Math.round(r*255)},${Math.round(g*255)},${Math.round(b*255)})`;}
(function(){
 const o=tpanel('pitch-angle-panel','Suprathermal Electrons Pitch Angle Distribution (94.02eV)',1872,2061,0,180,[0,60,120,180],null,'pitch angle (deg)');
 const nr=padRowLevel.length,nc=padColAdj.length,cw=89/nc,rh=180/nr;
 for(let r=0;r<nr;r++){if(isNaN(padRowLevel[r]))continue;
  for(let c=0;c<nc;c++){const v=padRowLevel[r]+padColAdj[c]*(r<10?1.0:0.6);
   const x=o.sx(c*cw),y=o.sy((r+1)*rh);
   const cell=mk('rect',{x:x.toFixed(1),y:y.toFixed(1),width:(o.sx(cw)-o.sx(0)+0.6).toFixed(1),height:(o.sy(0)-o.sy(rh)+0.6).toFixed(1),fill:jet((v+31)/5)},o.plot);
   
   
  }}
 frame(o,8);
 const cb=mk('g',{});
 
 
 const n=40;for(let i=0;i<n;i++){mk('rect',{x:1692,y:1872+i*(189/n),width:9,height:189/n+0.5,fill:jet(1-(i+0.5)/n)},cb);}
 mk('rect',{x:1692,y:1872,width:9,height:189,fill:'none',stroke:'#000','stroke-width':2},cb);
 [-26,-27,-28,-29,-30,-31].forEach((e,i)=>{const y=1872+i*189/5;const t=txt('',1711,y+8,17,'start',cb);t.innerHTML='10<tspan font-size="11" dy="-9">'+e+'</tspan>';});
})();
// Solar wind
(function(){
 const o=tpanel('solar-wind-panel','Solar Wind Velocity (GSE Frame)',2158,2347,-350,50,range(-350,50,50),range(-350,50,50).map(String),'Vsw(km/s)');
 series(o,vx,'#f00','vx-line');series(o,vy,'#008000','vy-line');series(o,vz,'#00f','vz-line');
 frame(o,8);legend(o,1605,2165,71,70,[['Vx','#f00'],['Vy','#008000'],['Vz','#00f']]);
})();
// Plasma beta
(function(){
 const o=tpanel('plasma-beta-panel','Plasma Beta',2439,2629,0,5,range(0,5,1),null,'');
 const yl=txt('',62,2534,14,'middle',o.g,{transform:'rotate(-90 62 2534)'});yl.innerHTML='<tspan font-style="italic">β<tspan font-size="9" dy="3">p</tspan></tspan><tspan dy="-3"> and </tspan><tspan font-style="italic">β</tspan>';
 series(o,beta,'#008000','beta-line');series(o,betaP,'#00f','beta-p-line');
 frame(o,8);legend(o,1615,2446,69,57,[['<tspan font-style="italic">β<tspan font-size="9" dy="3">p</tspan></tspan>','#00f'],['<tspan font-style="italic">β</tspan>','#008000']],14);
})();
// Density
(function(){
 const o=tpanel('density-panel','Proton Number Density',2725,2914,0,30,range(0,30,5),null,'Np(#/cc)');
 series(o,np,'#00f','density-line');frame(o,8);
})();
// Temperature
(function(){
 const o=tpanel('temperature-panel','',3008,3198,0,0.5,range(0,0.5,0.1),range(0,0.5,0.1).map(v=>v.toFixed(1)),'');
 o.noRightTicks=true;
 const tt=txt('',900,2998,24,'middle',o.g);tt.innerHTML='Proton Temperature and <tspan font-family="Liberation Serif" font-style="italic">T<tspan font-size="15" dy="5">e</tspan><tspan dy="-5">/T</tspan><tspan font-size="15" dy="5">p</tspan></tspan>';
 
 
 const yl=txt('',58,3103,14,'middle',o.g,{transform:'rotate(-90 58 3103)','letter-spacing':'2'});yl.innerHTML='Tp(10<tspan font-size="9" dy="-6">6</tspan><tspan dy="6">K)</tspan>';
 
 
 series(o,tp,'#00f','tp-line');
 const o2={sx:o.sx,sy:v=>o.y1-v/5*(o.y1-o.y0),plot:o.plot};
 const xs=teTp.map((_,i)=>i*89/(teTp.length-1));
 const rl=poly(o2,xs,teTp,'#f00',2);
 
 
 frame(o,8);
 [0,1,2,3,4,5].forEach(v=>{const y=o2.sy(v);mk('line',{x1:TX1,x2:TX1-8,y1:y,y2:y,stroke:'#000','stroke-width':1.3},o.g);
  const t=txt(String(v),TX1+8,y+6,17,'start',o.g,{fill:'#f00'});
  
  });
 const ry=txt('',1728,3103,14,'middle',o.g,{transform:'rotate(-90 1728 3103)',fill:'#f00','font-family':'Liberation Serif','font-style':'italic'});ry.innerHTML='T<tspan font-size="9" dy="3">e</tspan><tspan dy="-3">/T</tspan><tspan font-size="9" dy="3">p</tspan>';
 
 
 legend(o,123,3016,73,28,[['Tp','#00f']],14);
 legend(o,1593,3016,91,31,[['<tspan font-family="Liberation Serif" font-style="italic">T<tspan font-size="9" dy="3">e</tspan><tspan dy="-3">/T</tspan><tspan font-size="9" dy="3">p</tspan></tspan>','#f00']],14);
})();
</script>
</body></html>
